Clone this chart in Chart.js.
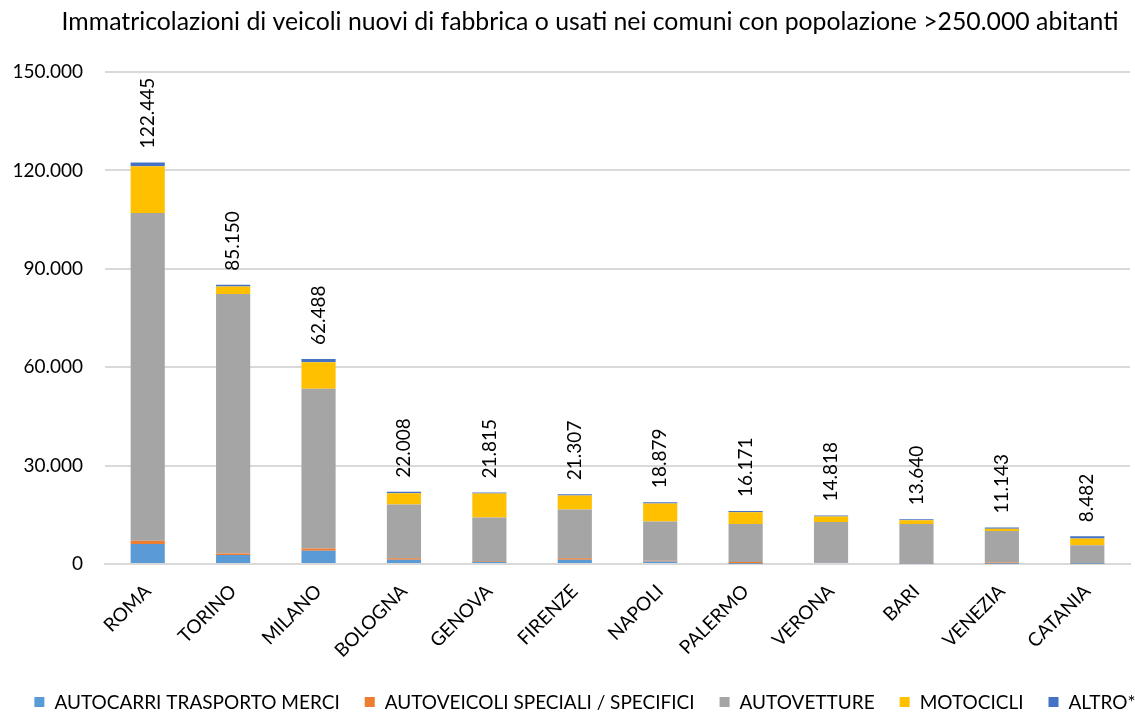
<!DOCTYPE html>
<html lang="it">
<head>
<meta charset="UTF-8" />
<title>Immatricolazioni veicoli</title>
<script src="https://cdn.jsdelivr.net/npm/chart.js"></script>
<style>
    html, body { margin: 0; padding: 0; background: #fff; }
    #wrap { width: 1135px; height: 713px; }
</style>
</head>
<body>
<div id="wrap"><canvas id="chart" width="1135" height="713"></canvas></div>
<script>
// categories and series
const comuni = ['ROMA', 'TORINO', 'MILANO', 'BOLOGNA', 'GENOVA', 'FIRENZE', 'NAPOLI', 'PALERMO', 'VERONA', 'BARI', 'VENEZIA', 'CATANIA'];
const autocarri   = [6100, 2750, 4060, 1300, 700, 1300, 800, 100, 500, 200, 100, 100];
const speciali    = [1000, 500, 700, 500, 200, 500, 200, 500, 100, 100, 400, 150];
const autovetture = [99945, 79100, 48698, 16358, 13315, 14837, 11979, 11611, 12188, 11890, 9543, 5502];
const motocicli   = [14200, 2300, 8030, 3450, 7300, 4270, 5500, 3560, 1730, 1200, 700, 2030];
const altro       = [1200, 500, 1000, 400, 300, 400, 400, 400, 300, 250, 400, 700];
const totali      = [122445, 85150, 62488, 22008, 21815, 21307, 18879, 16171, 14818, 13640, 11143, 8482];
const yTicks = [0, 30000, 60000, 90000, 120000, 150000];

const TITLE = 'Immatricolazioni di veicoli nuovi di fabbrica o usati nei comuni con popolazione >250.000 abitanti';
const FONT = 'Lato, "Noto Sans", sans-serif';

function fmt(v) {
    return String(v).replace(/\B(?=(\d{3})+(?!\d))/g, '.');
}

// title and legend drawn by hand: the original sits a bit right of centre
// and keeps the legend on a single row
const frame = {
    id: 'frame',
    afterDraw(chart) {
        const ctx = chart.ctx;
        ctx.save();
        ctx.fillStyle = '#000';
        ctx.textBaseline = 'middle';
        ctx.font = '24.8px ' + FONT;
        ctx.textAlign = 'center';
        ctx.fillText(TITLE, 590, 22);

        ctx.font = '19px ' + FONT;
        ctx.textAlign = 'left';
        const sets = chart.data.datasets;
        const box = 10, gapText = 10, gapItem = 25, y = 702;
        const widths = sets.map(d => box + gapText + ctx.measureText(d.label).width);
        const total = widths.reduce((a, b) => a + b, 0) + gapItem * (sets.length - 1);
        let x = 585 - total / 2;
        sets.forEach((d, i) => {
            ctx.fillStyle = d.backgroundColor;
            ctx.fillRect(x, y - box / 2, box, box);
            ctx.fillStyle = '#000';
            ctx.fillText(d.label, x + box + gapText, y + 1);
            x += widths[i] + gapItem;
        });
        ctx.restore();
    }
};

// totals written vertically above each stacked bar
const totalLabels = {
    id: 'totalLabels',
    afterDatasetsDraw(chart) {
        const ctx = chart.ctx;
        const yScale = chart.scales.y;
        const xScale = chart.scales.x;
        ctx.save();
        ctx.font = '19px ' + FONT;
        ctx.fillStyle = '#000';
        ctx.textAlign = 'left';
        ctx.textBaseline = 'middle';
        totali.forEach((t, i) => {
            const x = xScale.getPixelForValue(i);
            const y = yScale.getPixelForValue(t) - 14;
            ctx.save();
            ctx.translate(x, y);
            ctx.rotate(-Math.PI / 2);
            ctx.fillText(fmt(t), 0, 0);
            ctx.restore();
        });
        ctx.restore();
    }
};

const mk = (label, data, color) => ({
    label: label,
    data: data,
    backgroundColor: color,
    borderWidth: 0,
    categoryPercentage: 1,
    barPercentage: 0.4
});

new Chart(document.getElementById('chart'), {
    type: 'bar',
    data: {
        labels: comuni,
        datasets: [
            mk('AUTOCARRI TRASPORTO MERCI', autocarri, '#5B9BD5'),
            mk('AUTOVEICOLI SPECIALI / SPECIFICI', speciali, '#ED7D31'),
            mk('AUTOVETTURE', autovetture, '#A5A5A5'),
            mk('MOTOCICLI', motocicli, '#FFC000'),
            mk('ALTRO*', altro, '#4472C4')
        ]
    },
    plugins: [totalLabels, frame],
    options: {
        responsive: false,
        animation: false,
        layout: { padding: { left: 8, right: 5, top: 72, bottom: 43 } },
        plugins: {
            title: { display: false },
            legend: { display: false },
            tooltip: { enabled: false }
        },
        scales: {
            x: {
                stacked: true,
                grid: { display: false },
                border: { color: '#d9d9d9', width: 2 },
                ticks: {
                    color: '#000',
                    font: { family: FONT, size: 19 },
                    minRotation: 45,
                    maxRotation: 45,
                    padding: 8
                }
            },
            y: {
                stacked: true,
                min: 0,
                max: 150000,
                afterBuildTicks(scale) {
                    scale.ticks = yTicks.map(v => ({ value: v }));
                },
                afterFit(scale) { scale.width = 97; },
                grid: { color: '#d9d9d9', lineWidth: 2, drawTicks: false },
                border: { display: false },
                ticks: {
                    color: '#000',
                    font: { family: FONT, size: 19 },
                    padding: 22,
                    callback: v => fmt(v)
                }
            }
        }
    }
});
</script>
</body>
</html>
